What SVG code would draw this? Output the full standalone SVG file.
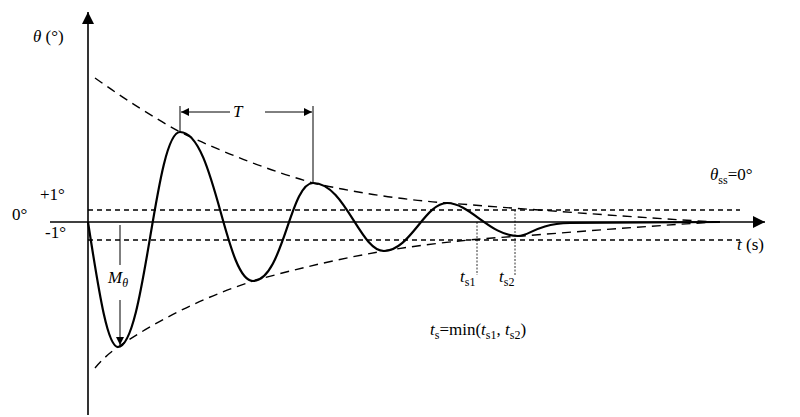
<svg xmlns="http://www.w3.org/2000/svg" width="800" height="417" viewBox="0 0 800 417">
<style>
text{font-family:"Liberation Serif",serif;font-size:17px;fill:#000}
.ax{stroke:#000;stroke-width:1.6;fill:none}
.env{stroke:#000;stroke-width:1.4;fill:none;stroke-dasharray:9 6}
.band{stroke:#000;stroke-width:1.3;fill:none;stroke-dasharray:5 4}
.thin{stroke:#000;stroke-width:1;fill:none}
.dot{stroke:#000;stroke-width:0.8;fill:none;stroke-dasharray:2 1.5}
.curve{stroke:#000;stroke-width:2.2;fill:none}
</style>
<defs>
<marker id="ah" viewBox="0 0 10 10" refX="10" refY="5" markerWidth="8" markerHeight="8" markerUnits="userSpaceOnUse" orient="auto"><path d="M0,0L10,5L0,10z" fill="#000"/></marker>
<marker id="big" viewBox="0 0 10 10" refX="10" refY="5" markerWidth="14" markerHeight="12" markerUnits="userSpaceOnUse" orient="auto"><path d="M0,0L10,5L0,10z" fill="#000"/></marker>
</defs>
<rect width="800" height="417" fill="#fff"/>
<g id="connectors">
<line class="ax" x1="88" y1="415" x2="88" y2="12" marker-end="url(#big)"/>
<line class="ax" x1="50" y1="222" x2="765" y2="222" marker-end="url(#big)"/>
<line class="band" x1="88" y1="210" x2="740" y2="210"/>
<line class="band" x1="88" y1="240" x2="740" y2="240"/>
<path class="env" d="M95,78 Q140,110 180,132 Q250,165 313,183 Q380,198 447,203 Q600,215 715,222"/>
<path class="env" d="M95,368 Q105,356 118,347 Q180,305 253,281 Q320,262 384,251 Q450,240 523,236 Q620,228 715,222"/>
<path class="curve" d="M88,222 C100,300 108,347 118,347 C145,347 155,132 180,132 C215,132 225,281 253,281 C283,281 290,183 313,183 C345,183 360,251 384,251 C410,251 425,203 447,203 C470,203 490,236 518,236 C530,236 535,224 570,223 L720,222"/>
<line class="thin" x1="180" y1="106" x2="180" y2="132"/>
<line class="thin" x1="313" y1="106" x2="313" y2="183"/>
<line class="thin" x1="230" y1="112" x2="181" y2="112" marker-end="url(#ah)"/>
<line class="thin" x1="265" y1="112" x2="312" y2="112" marker-end="url(#ah)"/>
<line class="thin" x1="120" y1="225" x2="120" y2="265"/>
<line class="thin" x1="120" y1="300" x2="120" y2="345" marker-end="url(#ah)"/>
<line class="dot" x1="477" y1="222" x2="477" y2="275"/>
<line class="dot" x1="515" y1="210" x2="515" y2="275"/>
</g>
<g id="labels">
<text x="33" y="42"><tspan font-style="italic">θ</tspan> (°)</text>
<text x="40" y="200">+1°</text>
<text x="12" y="220">0°</text>
<text x="45" y="238">-1°</text>
<text x="233" y="117" font-family="Liberation Sans,sans-serif" font-style="italic" font-size="16">T</text>
<text x="108" y="283"><tspan font-style="italic">M</tspan><tspan font-style="italic" font-size="12" dy="4">θ</tspan></text>
<text x="710" y="180"><tspan font-style="italic">θ</tspan><tspan font-size="12" dy="4">ss</tspan><tspan dy="-4">=0°</tspan></text>
<text x="737" y="250"><tspan font-style="italic">t</tspan> (s)</text>
<text x="460" y="282"><tspan font-style="italic">t</tspan><tspan font-size="12" dy="4">s1</tspan></text>
<text x="499" y="282"><tspan font-style="italic">t</tspan><tspan font-size="12" dy="4">s2</tspan></text>
<text x="430" y="335"><tspan font-style="italic">t</tspan><tspan font-size="12" dy="4">s</tspan><tspan dy="-4">=min(</tspan><tspan font-style="italic">t</tspan><tspan font-size="12" dy="4">s1</tspan><tspan dy="-4">, </tspan><tspan font-style="italic">t</tspan><tspan font-size="12" dy="4">s2</tspan><tspan dy="-4">)</tspan></text>
</g>
</svg>
